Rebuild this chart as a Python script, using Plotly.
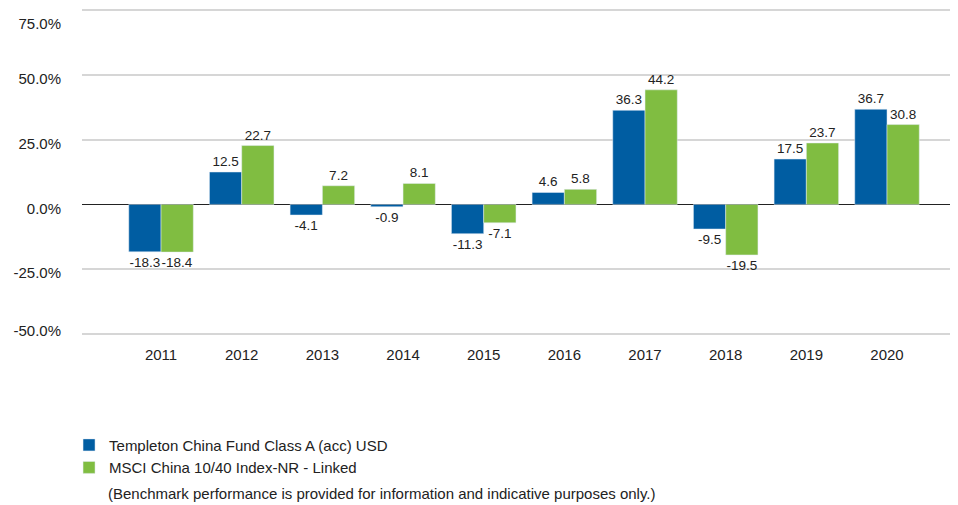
import plotly.graph_objects as go

years = ["2011", "2012", "2013", "2014", "2015", "2016", "2017", "2018", "2019", "2020"]
fund = [-18.3, 12.5, -4.1, -0.9, -11.3, 4.6, 36.3, -9.5, 17.5, 36.7]
bench = [-18.4, 22.7, 7.2, 8.1, -7.1, 5.8, 44.2, -19.5, 23.7, 30.8]
fund_name = "Templeton China Fund Class A (acc) USD"
bench_name = "MSCI China 10/40 Index-NR - Linked"
note = "(Benchmark performance is provided for information and indicative purposes only.)"
y_ticks = [-50, -25, 0, 25, 50, 75]
y_labels = ["-50.0%", "-25.0%", "0.0%", "25.0%", "50.0%", "75.0%"]

FONT = "Liberation Sans, Arial, sans-serif"
BLUE = "#005da2"
GREEN = "#80bd41"
# a hair wider than the tick span so the end gridlines are drawn
Y_RANGE = [-50.77, 75.77]

fig = go.Figure()
fig.add_trace(go.Bar(x=years, y=fund, name=fund_name, marker_color=BLUE,
                     text=[f"{v:.1f}" for v in fund], textposition="outside",
                     textfont=dict(size=13.5, color="#222", family=FONT), cliponaxis=False))
fig.add_trace(go.Bar(x=years, y=bench, name=bench_name, marker_color=GREEN,
                     text=[f"{v:.1f}" for v in bench], textposition="outside",
                     textfont=dict(size=13.5, color="#222", family=FONT), cliponaxis=False))
# empty helper traces so the overlay axes carrying the end labels are drawn
for ax in ("y2", "y3"):
    fig.add_trace(go.Scatter(x=[years[0]], y=[None], yaxis=ax, showlegend=False,
                             hoverinfo="skip", mode="markers"))

# inner labels on the main axis; the end labels (kept inside the chart) on overlay axes
inner_text = ["" if v in (y_ticks[0], y_ticks[-1]) else t for v, t in zip(y_ticks, y_labels)]

common_overlay = dict(overlaying="y", side="left", range=Y_RANGE, showgrid=False,
                      zeroline=False, showline=False, ticks="", ticklabelstandoff=20,
                      tickfont=dict(size=15), automargin=False, tickmode="array",
                      ticklabeloverflow="allow")

# page body has an 8px margin, so the figure is 8px smaller and the margins compensate
fig.update_layout(
    width=950, height=497,
    margin=dict(l=74, r=0, t=0, b=169, autoexpand=False),
    paper_bgcolor="white", plot_bgcolor="white",
    font=dict(family=FONT, size=15, color="#222"),
    barmode="group", bargap=0.2, bargroupgap=0,
    showlegend=True,
    legend=dict(orientation="v", x=-0.0148, xanchor="left", y=-0.2824, yanchor="top",
                font=dict(size=15, family=FONT, color="#222"),
                tracegroupgap=0, itemwidth=30, bgcolor="rgba(0,0,0,0)"),
    xaxis=dict(type="category", range=[-0.98, 9.88], showgrid=False, showline=False,
               ticks="", ticklabelstandoff=8, tickfont=dict(size=15), automargin=False),
    yaxis=dict(range=Y_RANGE, tickmode="array", tickvals=y_ticks, ticktext=inner_text,
               showgrid=True, gridcolor="#d6d6d6", gridwidth=2,
               zeroline=True, zerolinecolor="#222", zerolinewidth=1.2,
               ticks="", ticklabelstandoff=20, ticklabelshift=4, ticklabeloverflow="allow",
               tickfont=dict(size=15), automargin=False),
    yaxis2=dict(tickvals=[y_ticks[-1]], ticktext=[y_labels[-1]], ticklabelshift=14,
                **common_overlay),
    yaxis3=dict(tickvals=[y_ticks[0]], ticktext=[y_labels[0]], ticklabelshift=-3,
                **common_overlay),
    annotations=[dict(text=note, xref="paper", yref="paper", x=0.027, y=-0.4787,
                      xanchor="left", yanchor="middle", showarrow=False,
                      font=dict(size=15, family=FONT, color="#222"))],
)

fig.write_html("out.html")
